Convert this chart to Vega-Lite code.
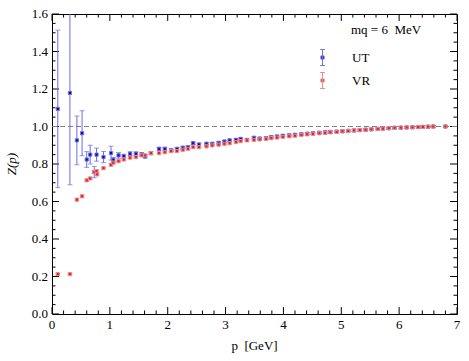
{
  "$schema": "https://vega.github.io/schema/vega-lite/v6.json",
  "width": 405,
  "height": 300,
  "autosize": {"type": "none"},
  "padding": {"left": 52, "top": 14, "right": 12, "bottom": 47},
  "title": {"text": "mq = 6\u00a0\u00a0MeV", "orient": "top", "anchor": "start", "frame": "group", "offset": 0, "dx": 299, "dy": 29, "baseline": "top", "font": "Liberation Serif", "fontSize": 13, "fontWeight": "normal", "color": "#000"},
  "config": {
    "view": {"stroke": "#000", "strokeWidth": 1},
    "font": "Liberation Serif"
  },
  "datasets": {
    "xmaj": [{"t": 0}, {"t": 1}, {"t": 2}, {"t": 3}, {"t": 4}, {"t": 5}, {"t": 6}, {"t": 7}],
    "xmin": [{"t": 0.2}, {"t": 0.4}, {"t": 0.6}, {"t": 0.8}, {"t": 1.2}, {"t": 1.4}, {"t": 1.6}, {"t": 1.8}, {"t": 2.2}, {"t": 2.4}, {"t": 2.6}, {"t": 2.8}, {"t": 3.2}, {"t": 3.4}, {"t": 3.6}, {"t": 3.8}, {"t": 4.2}, {"t": 4.4}, {"t": 4.6}, {"t": 4.8}, {"t": 5.2}, {"t": 5.4}, {"t": 5.6}, {"t": 5.8}, {"t": 6.2}, {"t": 6.4}, {"t": 6.6}, {"t": 6.8}],
    "ymaj": [{"t": 0}, {"t": 0.2}, {"t": 0.4}, {"t": 0.6}, {"t": 0.8}, {"t": 1.0}, {"t": 1.2}, {"t": 1.4}, {"t": 1.6}],
    "ymin": [{"t": 0.05}, {"t": 0.1}, {"t": 0.15}, {"t": 0.25}, {"t": 0.3}, {"t": 0.35}, {"t": 0.45}, {"t": 0.5}, {"t": 0.55}, {"t": 0.65}, {"t": 0.7}, {"t": 0.75}, {"t": 0.85}, {"t": 0.9}, {"t": 0.95}, {"t": 1.05}, {"t": 1.1}, {"t": 1.15}, {"t": 1.25}, {"t": 1.3}, {"t": 1.35}, {"t": 1.45}, {"t": 1.5}, {"t": 1.55}],
    "pts": [
    {"s": "UT", "p": 0.10, "z": 1.094, "err": 0.42},
    {"s": "UT", "p": 0.31, "z": 1.179, "err": 0.49},
    {"s": "UT", "p": 0.43, "z": 0.926, "err": 0.13},
    {"s": "UT", "p": 0.52, "z": 0.964, "err": 0.12},
    {"s": "UT", "p": 0.60, "z": 0.824, "err": 0.042},
    {"s": "UT", "p": 0.66, "z": 0.850, "err": 0.05},
    {"s": "UT", "p": 0.73, "z": 0.757, "err": 0.03},
    {"s": "UT", "p": 0.77, "z": 0.850, "err": 0.035},
    {"s": "UT", "p": 0.89, "z": 0.837, "err": 0.03},
    {"s": "UT", "p": 1.02, "z": 0.858, "err": 0.037},
    {"s": "UT", "p": 1.06, "z": 0.823, "err": 0.012},
    {"s": "UT", "p": 1.15, "z": 0.846, "err": 0.015},
    {"s": "UT", "p": 1.24, "z": 0.842, "err": 0.01},
    {"s": "UT", "p": 1.35, "z": 0.855, "err": 0.01},
    {"s": "UT", "p": 1.45, "z": 0.855, "err": 0.01},
    {"s": "UT", "p": 1.55, "z": 0.851, "err": 0.01},
    {"s": "UT", "p": 1.61, "z": 0.840, "err": 0.008},
    {"s": "UT", "p": 1.71, "z": 0.858, "err": 0.008},
    {"s": "UT", "p": 1.85, "z": 0.881, "err": 0.008},
    {"s": "UT", "p": 1.95, "z": 0.881, "err": 0.008},
    {"s": "UT", "p": 2.06, "z": 0.874, "err": 0.007},
    {"s": "UT", "p": 2.16, "z": 0.881, "err": 0.007},
    {"s": "UT", "p": 2.26, "z": 0.887, "err": 0.007},
    {"s": "UT", "p": 2.35, "z": 0.890, "err": 0.007},
    {"s": "UT", "p": 2.44, "z": 0.911, "err": 0.007},
    {"s": "UT", "p": 2.54, "z": 0.904, "err": 0.007},
    {"s": "UT", "p": 2.67, "z": 0.908, "err": 0.007},
    {"s": "UT", "p": 2.77, "z": 0.908, "err": 0.006},
    {"s": "UT", "p": 2.88, "z": 0.913, "err": 0.006},
    {"s": "UT", "p": 2.98, "z": 0.920, "err": 0.006},
    {"s": "UT", "p": 3.07, "z": 0.926, "err": 0.006},
    {"s": "UT", "p": 3.18, "z": 0.929, "err": 0.006},
    {"s": "UT", "p": 3.26, "z": 0.934, "err": 0.006},
    {"s": "UT", "p": 3.37, "z": 0.929, "err": 0.006},
    {"s": "UT", "p": 3.49, "z": 0.940, "err": 0.006},
    {"s": "UT", "p": 3.59, "z": 0.936, "err": 0.006},
    {"s": "UT", "p": 3.70, "z": 0.938, "err": 0.006},
    {"s": "UT", "p": 3.79, "z": 0.944, "err": 0.006},
    {"s": "UT", "p": 3.89, "z": 0.947, "err": 0.006},
    {"s": "UT", "p": 3.99, "z": 0.951, "err": 0.006},
    {"s": "UT", "p": 4.10, "z": 0.953, "err": 0.006},
    {"s": "UT", "p": 4.20, "z": 0.956, "err": 0.006},
    {"s": "UT", "p": 4.31, "z": 0.959, "err": 0.006},
    {"s": "UT", "p": 4.41, "z": 0.962, "err": 0.006},
    {"s": "UT", "p": 4.51, "z": 0.964, "err": 0.006},
    {"s": "UT", "p": 4.62, "z": 0.967, "err": 0.006},
    {"s": "UT", "p": 4.72, "z": 0.969, "err": 0.006},
    {"s": "UT", "p": 4.81, "z": 0.971, "err": 0.006},
    {"s": "UT", "p": 4.92, "z": 0.973, "err": 0.006},
    {"s": "UT", "p": 5.02, "z": 0.975, "err": 0.006},
    {"s": "UT", "p": 5.12, "z": 0.977, "err": 0.006},
    {"s": "UT", "p": 5.22, "z": 0.979, "err": 0.006},
    {"s": "UT", "p": 5.32, "z": 0.981, "err": 0.006},
    {"s": "UT", "p": 5.42, "z": 0.983, "err": 0.006},
    {"s": "UT", "p": 5.52, "z": 0.985, "err": 0.006},
    {"s": "UT", "p": 5.63, "z": 0.987, "err": 0.006},
    {"s": "UT", "p": 5.72, "z": 0.989, "err": 0.006},
    {"s": "UT", "p": 5.82, "z": 0.991, "err": 0.006},
    {"s": "UT", "p": 5.92, "z": 0.993, "err": 0.006},
    {"s": "UT", "p": 6.03, "z": 0.994, "err": 0.006},
    {"s": "UT", "p": 6.13, "z": 0.995, "err": 0.006},
    {"s": "UT", "p": 6.23, "z": 0.996, "err": 0.006},
    {"s": "UT", "p": 6.33, "z": 0.997, "err": 0.006},
    {"s": "UT", "p": 6.41, "z": 0.998, "err": 0.006},
    {"s": "UT", "p": 6.50, "z": 0.999, "err": 0.006},
    {"s": "UT", "p": 6.59, "z": 1.000, "err": 0.006},
    {"s": "UT", "p": 6.80, "z": 1.000, "err": 0.006},
    {"s": "VR", "p": 0.10, "z": 0.213, "err": 0.005},
    {"s": "VR", "p": 0.31, "z": 0.213, "err": 0.005},
    {"s": "VR", "p": 0.43, "z": 0.610, "err": 0.006},
    {"s": "VR", "p": 0.52, "z": 0.628, "err": 0.006},
    {"s": "VR", "p": 0.60, "z": 0.713, "err": 0.006},
    {"s": "VR", "p": 0.66, "z": 0.723, "err": 0.006},
    {"s": "VR", "p": 0.73, "z": 0.757, "err": 0.008},
    {"s": "VR", "p": 0.77, "z": 0.762, "err": 0.008},
    {"s": "VR", "p": 0.78, "z": 0.745, "err": 0.008},
    {"s": "VR", "p": 0.89, "z": 0.778, "err": 0.006},
    {"s": "VR", "p": 1.02, "z": 0.796, "err": 0.006},
    {"s": "VR", "p": 1.06, "z": 0.807, "err": 0.006},
    {"s": "VR", "p": 1.15, "z": 0.815, "err": 0.006},
    {"s": "VR", "p": 1.24, "z": 0.824, "err": 0.005},
    {"s": "VR", "p": 1.35, "z": 0.834, "err": 0.005},
    {"s": "VR", "p": 1.45, "z": 0.837, "err": 0.005},
    {"s": "VR", "p": 1.55, "z": 0.846, "err": 0.005},
    {"s": "VR", "p": 1.61, "z": 0.846, "err": 0.005},
    {"s": "VR", "p": 1.71, "z": 0.858, "err": 0.005},
    {"s": "VR", "p": 1.85, "z": 0.858, "err": 0.005},
    {"s": "VR", "p": 1.95, "z": 0.863, "err": 0.005},
    {"s": "VR", "p": 2.06, "z": 0.869, "err": 0.005},
    {"s": "VR", "p": 2.16, "z": 0.869, "err": 0.005},
    {"s": "VR", "p": 2.26, "z": 0.876, "err": 0.005},
    {"s": "VR", "p": 2.35, "z": 0.881, "err": 0.005},
    {"s": "VR", "p": 2.44, "z": 0.890, "err": 0.005},
    {"s": "VR", "p": 2.54, "z": 0.890, "err": 0.005},
    {"s": "VR", "p": 2.67, "z": 0.894, "err": 0.005},
    {"s": "VR", "p": 2.77, "z": 0.899, "err": 0.005},
    {"s": "VR", "p": 2.88, "z": 0.903, "err": 0.005},
    {"s": "VR", "p": 2.98, "z": 0.908, "err": 0.005},
    {"s": "VR", "p": 3.07, "z": 0.911, "err": 0.005},
    {"s": "VR", "p": 3.18, "z": 0.917, "err": 0.005},
    {"s": "VR", "p": 3.26, "z": 0.922, "err": 0.005},
    {"s": "VR", "p": 3.37, "z": 0.926, "err": 0.005},
    {"s": "VR", "p": 3.49, "z": 0.929, "err": 0.005},
    {"s": "VR", "p": 3.59, "z": 0.931, "err": 0.005},
    {"s": "VR", "p": 3.70, "z": 0.934, "err": 0.005},
    {"s": "VR", "p": 3.79, "z": 0.938, "err": 0.005},
    {"s": "VR", "p": 3.89, "z": 0.941, "err": 0.005},
    {"s": "VR", "p": 3.99, "z": 0.945, "err": 0.005},
    {"s": "VR", "p": 4.10, "z": 0.948, "err": 0.005},
    {"s": "VR", "p": 4.20, "z": 0.951, "err": 0.005},
    {"s": "VR", "p": 4.31, "z": 0.955, "err": 0.005},
    {"s": "VR", "p": 4.41, "z": 0.958, "err": 0.005},
    {"s": "VR", "p": 4.51, "z": 0.961, "err": 0.005},
    {"s": "VR", "p": 4.62, "z": 0.964, "err": 0.005},
    {"s": "VR", "p": 4.72, "z": 0.966, "err": 0.005},
    {"s": "VR", "p": 4.81, "z": 0.969, "err": 0.005},
    {"s": "VR", "p": 4.92, "z": 0.971, "err": 0.005},
    {"s": "VR", "p": 5.02, "z": 0.974, "err": 0.005},
    {"s": "VR", "p": 5.12, "z": 0.976, "err": 0.005},
    {"s": "VR", "p": 5.22, "z": 0.979, "err": 0.005},
    {"s": "VR", "p": 5.32, "z": 0.981, "err": 0.005},
    {"s": "VR", "p": 5.42, "z": 0.983, "err": 0.005},
    {"s": "VR", "p": 5.52, "z": 0.985, "err": 0.005},
    {"s": "VR", "p": 5.63, "z": 0.987, "err": 0.005},
    {"s": "VR", "p": 5.72, "z": 0.989, "err": 0.005},
    {"s": "VR", "p": 5.82, "z": 0.991, "err": 0.005},
    {"s": "VR", "p": 5.92, "z": 0.993, "err": 0.005},
    {"s": "VR", "p": 6.03, "z": 0.994, "err": 0.005},
    {"s": "VR", "p": 6.13, "z": 0.995, "err": 0.005},
    {"s": "VR", "p": 6.23, "z": 0.996, "err": 0.005},
    {"s": "VR", "p": 6.33, "z": 0.997, "err": 0.005},
    {"s": "VR", "p": 6.41, "z": 0.998, "err": 0.005},
    {"s": "VR", "p": 6.50, "z": 0.999, "err": 0.005},
    {"s": "VR", "p": 6.59, "z": 1.000, "err": 0.005},
    {"s": "VR", "p": 6.80, "z": 1.000, "err": 0.005}
    ]
  },
  "data": {"name": "pts"},
  "layer": [
    {"data": {"name": "xmaj"}, "mark": {"type": "rule", "color": "#000", "strokeWidth": 1},
     "encoding": {"x": {"field": "t", "type": "quantitative", "axis": null}, "y": {"datum": 0, "type": "quantitative", "axis": null}, "y2": {"datum": 0.037}}},
    {"data": {"name": "xmaj"}, "mark": {"type": "rule", "color": "#000", "strokeWidth": 1},
     "encoding": {"x": {"field": "t", "type": "quantitative", "axis": null}, "y": {"datum": 1.6, "type": "quantitative", "axis": null}, "y2": {"datum": 1.563}}},
    {"data": {"name": "xmin"}, "mark": {"type": "rule", "color": "#000", "strokeWidth": 1},
     "encoding": {"x": {"field": "t", "type": "quantitative", "axis": null}, "y": {"datum": 0, "type": "quantitative", "axis": null}, "y2": {"datum": 0.019}}},
    {"data": {"name": "xmin"}, "mark": {"type": "rule", "color": "#000", "strokeWidth": 1},
     "encoding": {"x": {"field": "t", "type": "quantitative", "axis": null}, "y": {"datum": 1.6, "type": "quantitative", "axis": null}, "y2": {"datum": 1.581}}},
    {"data": {"name": "ymaj"}, "mark": {"type": "rule", "color": "#000", "strokeWidth": 1},
     "encoding": {"y": {"field": "t", "type": "quantitative", "axis": null}, "x": {"datum": 0, "type": "quantitative", "axis": null}, "x2": {"datum": 0.121}}},
    {"data": {"name": "ymaj"}, "mark": {"type": "rule", "color": "#000", "strokeWidth": 1},
     "encoding": {"y": {"field": "t", "type": "quantitative", "axis": null}, "x": {"datum": 7, "type": "quantitative", "axis": null}, "x2": {"datum": 6.879}}},
    {"data": {"name": "ymin"}, "mark": {"type": "rule", "color": "#000", "strokeWidth": 1},
     "encoding": {"y": {"field": "t", "type": "quantitative", "axis": null}, "x": {"datum": 0, "type": "quantitative", "axis": null}, "x2": {"datum": 0.061}}},
    {"data": {"name": "ymin"}, "mark": {"type": "rule", "color": "#000", "strokeWidth": 1},
     "encoding": {"y": {"field": "t", "type": "quantitative", "axis": null}, "x": {"datum": 7, "type": "quantitative", "axis": null}, "x2": {"datum": 6.939}}},
    {"data": {"name": "xmaj"}, "mark": {"type": "text", "baseline": "top", "align": "center", "dy": 5, "font": "Liberation Serif", "fontSize": 13, "color": "#000"},
     "encoding": {"x": {"field": "t", "type": "quantitative", "axis": null}, "y": {"datum": 0, "type": "quantitative", "axis": null}, "text": {"field": "t", "type": "quantitative", "format": "d"}}},
    {"data": {"name": "ymaj"}, "mark": {"type": "text", "baseline": "middle", "align": "right", "dx": -4, "font": "Liberation Serif", "fontSize": 13, "color": "#000"},
     "encoding": {"y": {"field": "t", "type": "quantitative", "axis": null}, "x": {"datum": 0, "type": "quantitative", "axis": null}, "text": {"field": "t", "type": "quantitative", "format": ".1f"}}},
    {"data": {"values": [{"label": "p\u00a0\u00a0[GeV]"}]}, "mark": {"type": "text", "baseline": "top", "align": "center", "dy": 26, "font": "Liberation Serif", "fontSize": 13, "color": "#000"},
     "encoding": {"x": {"datum": 3.5, "type": "quantitative", "axis": null}, "y": {"datum": 0, "type": "quantitative", "axis": null}, "text": {"field": "label", "type": "nominal"}}},
    {"data": {"values": [{"label": "Z(p)"}]}, "mark": {"type": "text", "baseline": "middle", "align": "center", "angle": 270, "fontStyle": "italic", "font": "Liberation Serif", "fontSize": 13, "color": "#000"},
     "encoding": {"x": {"datum": -0.69, "type": "quantitative", "axis": null}, "y": {"datum": 0.8, "type": "quantitative", "axis": null}, "text": {"field": "label", "type": "nominal"}}},
    {
      "data": {"values": [{"level": 1}]},
      "mark": {"type": "rule", "color": "#808080", "strokeDash": [5, 3], "strokeWidth": 1},
      "encoding": {"y": {"field": "level", "type": "quantitative", "axis": null}}
    },
    {
      "transform": [{"filter": "datum.s === 'UT'"}],
      "mark": {"type": "errorbar", "color": "#6b6be4", "thickness": 1, "ticks": {"size": 5}, "clip": true},
      "encoding": {
        "x": {"field": "p", "type": "quantitative", "axis": null},
        "y": {"field": "z", "type": "quantitative", "axis": null},
        "yError": {"field": "err"}
      }
    },
    {
      "transform": [{"filter": "datum.s === 'VR'"}],
      "mark": {"type": "errorbar", "color": "#ec8c8c", "thickness": 1, "ticks": {"size": 5}, "clip": true},
      "encoding": {
        "x": {"field": "p", "type": "quantitative", "axis": null},
        "y": {"field": "z", "type": "quantitative", "axis": null},
        "yError": {"field": "err"}
      }
    },
    {
      "mark": {"type": "square", "size": 10, "strokeWidth": 1, "opacity": 1},
      "encoding": {
        "x": {"field": "p", "type": "quantitative", "scale": {"domain": [0, 7], "nice": false, "zero": false}, "axis": null},
        "y": {"field": "z", "type": "quantitative", "scale": {"domain": [0, 1.6], "nice": false, "zero": false}, "axis": null},
        "fill": {"field": "s", "type": "nominal",
          "scale": {"domain": ["UT", "VR"], "range": ["#0b0ba0", "#c92a2a"]},
          "legend": {
            "orient": "none", "legendX": 262, "legendY": 35, "padding": 0, "title": null,
            "labelFont": "Liberation Serif", "labelFontSize": 13, "labelFontWeight": "normal", "labelColor": "#000", "labelOffset": 21,
            "rowPadding": 2, "symbolSize": 256, "symbolStrokeWidth": 1,
            "symbolType": "M-0.3,-1H0.3M0,-1V1M-0.3,1H0.3M-0.2,-0.2H0.2V0.2H-0.2Z"
          }
        },
        "stroke": {"field": "s", "type": "nominal",
          "scale": {"domain": ["UT", "VR"], "range": ["#7070e0", "#ec8c8c"]},
          "legend": {
            "orient": "none", "legendX": 262, "legendY": 35, "padding": 0, "title": null,
            "labelFont": "Liberation Serif", "labelFontSize": 13, "labelFontWeight": "normal", "labelColor": "#000", "labelOffset": 21,
            "rowPadding": 2, "symbolSize": 256, "symbolStrokeWidth": 1,
            "symbolType": "M-0.3,-1H0.3M0,-1V1M-0.3,1H0.3M-0.2,-0.2H0.2V0.2H-0.2Z"
          }
        }
      }
    }
  ]
}
